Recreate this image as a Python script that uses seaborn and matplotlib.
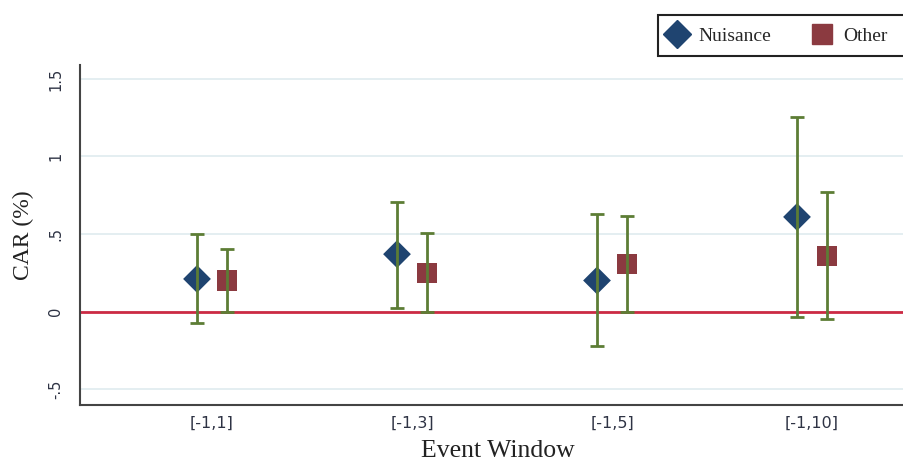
import numpy as np
import matplotlib.pyplot as plt
import matplotlib.patches as mpatches
from matplotlib.lines import Line2D
import pandas as pd
import seaborn as sns

# event windows and CAR estimates (%) with confidence bounds
windows = ["[-1,1]", "[-1,3]", "[-1,5]", "[-1,10]"]
nuisance_car = [0.21, 0.37, 0.20, 0.61]
nuisance_lo = [-0.075, 0.025, -0.225, -0.035]
nuisance_hi = [0.50, 0.705, 0.63, 1.255]
other_car = [0.20, 0.25, 0.305, 0.36]
other_lo = [0.0, 0.0, 0.0, -0.05]
other_hi = [0.40, 0.505, 0.615, 0.77]
yticks = [-0.5, 0, 0.5, 1, 1.5]
ytick_labels = ["-.5", "0", ".5", "1", "1.5"]

navy = "#1f4470"
maroon = "#8b3a40"
olive = "#5d7d35"
red = "#cc2a44"

offset = 0.075
rows = []
for i, w in enumerate(windows):
    rows.append({"window": w, "group": "Nuisance", "x": i - offset,
                 "car": nuisance_car[i], "lo": nuisance_lo[i], "hi": nuisance_hi[i]})
    rows.append({"window": w, "group": "Other", "x": i + offset,
                 "car": other_car[i], "lo": other_lo[i], "hi": other_hi[i]})
df = pd.DataFrame(rows)

sns.set_style("white")
plt.rcParams["font.family"] = ["DejaVu Sans"]

fig = plt.figure(figsize=(9.04, 4.62), dpi=100)
ax = fig.add_axes([80 / 904, 57 / 462, 1 - 80 / 904, 340 / 462])

ax.yaxis.grid(True, color="#e4eef1", lw=1.4, zorder=0)
ax.axhline(0, color=red, lw=2, zorder=2)

sns.scatterplot(data=df, x="x", y="car", hue="group", style="group",
                markers={"Nuisance": "D", "Other": "s"},
                palette={"Nuisance": navy, "Other": maroon},
                size="group", sizes={"Nuisance": 200, "Other": 215},
                linewidth=0, legend=False, zorder=3, ax=ax)

ax.errorbar(df["x"], df["car"], yerr=[df["car"] - df["lo"], df["hi"] - df["car"]],
            fmt="none", ecolor=olive, elinewidth=2, capsize=4.7, capthick=2, zorder=4)

ax.set_xlim(-0.66, 3.46)
ax.set_ylim(-0.603, 1.59)
ax.set_xticks(range(len(windows)))
ax.set_xticklabels(windows, fontsize=11.5, color="#2e3344")
ax.set_yticks(yticks)
ax.set_yticklabels(ytick_labels, fontsize=10.5, color="#2e3344", rotation=90, va="center")
ax.tick_params(axis="x", length=0, pad=8)
ax.tick_params(axis="y", length=7, width=1.3, color="#444444", pad=5)

for s in ["top", "right"]:
    ax.spines[s].set_visible(False)
for s in ["left", "bottom"]:
    ax.spines[s].set_color("#444444")
    ax.spines[s].set_linewidth(1.5)

ax.set_xlabel("Event Window", family="Liberation Serif", fontsize=18.5, color="#222222", labelpad=6)
ax.xaxis.set_label_coords(0.507, -0.104)
ax.set_ylabel("CAR (%)", family="Liberation Serif", fontsize=17, color="#222222", labelpad=10)

# legend box, clipped at the right edge like the original
fig.patches.append(mpatches.Rectangle((658 / 904, 1 - 56 / 462), 0.3, 41 / 462,
                                      transform=fig.transFigure, facecolor="white",
                                      edgecolor="#222222", lw=1.5, zorder=5))
handles = [Line2D([], [], marker="D", ls="none", color=navy, markersize=14),
           Line2D([], [], marker="s", ls="none", color=maroon, markersize=14)]
fig.legend(handles, ["Nuisance", "Other"], loc="center left",
           bbox_to_anchor=(645 / 904, 1 - 36 / 462), ncol=2, frameon=False,
           prop={"family": "Liberation Serif", "size": 14}, handletextpad=0.35,
           columnspacing=1.85, handlelength=1.5)

fig.savefig("out.png", dpi=100)
